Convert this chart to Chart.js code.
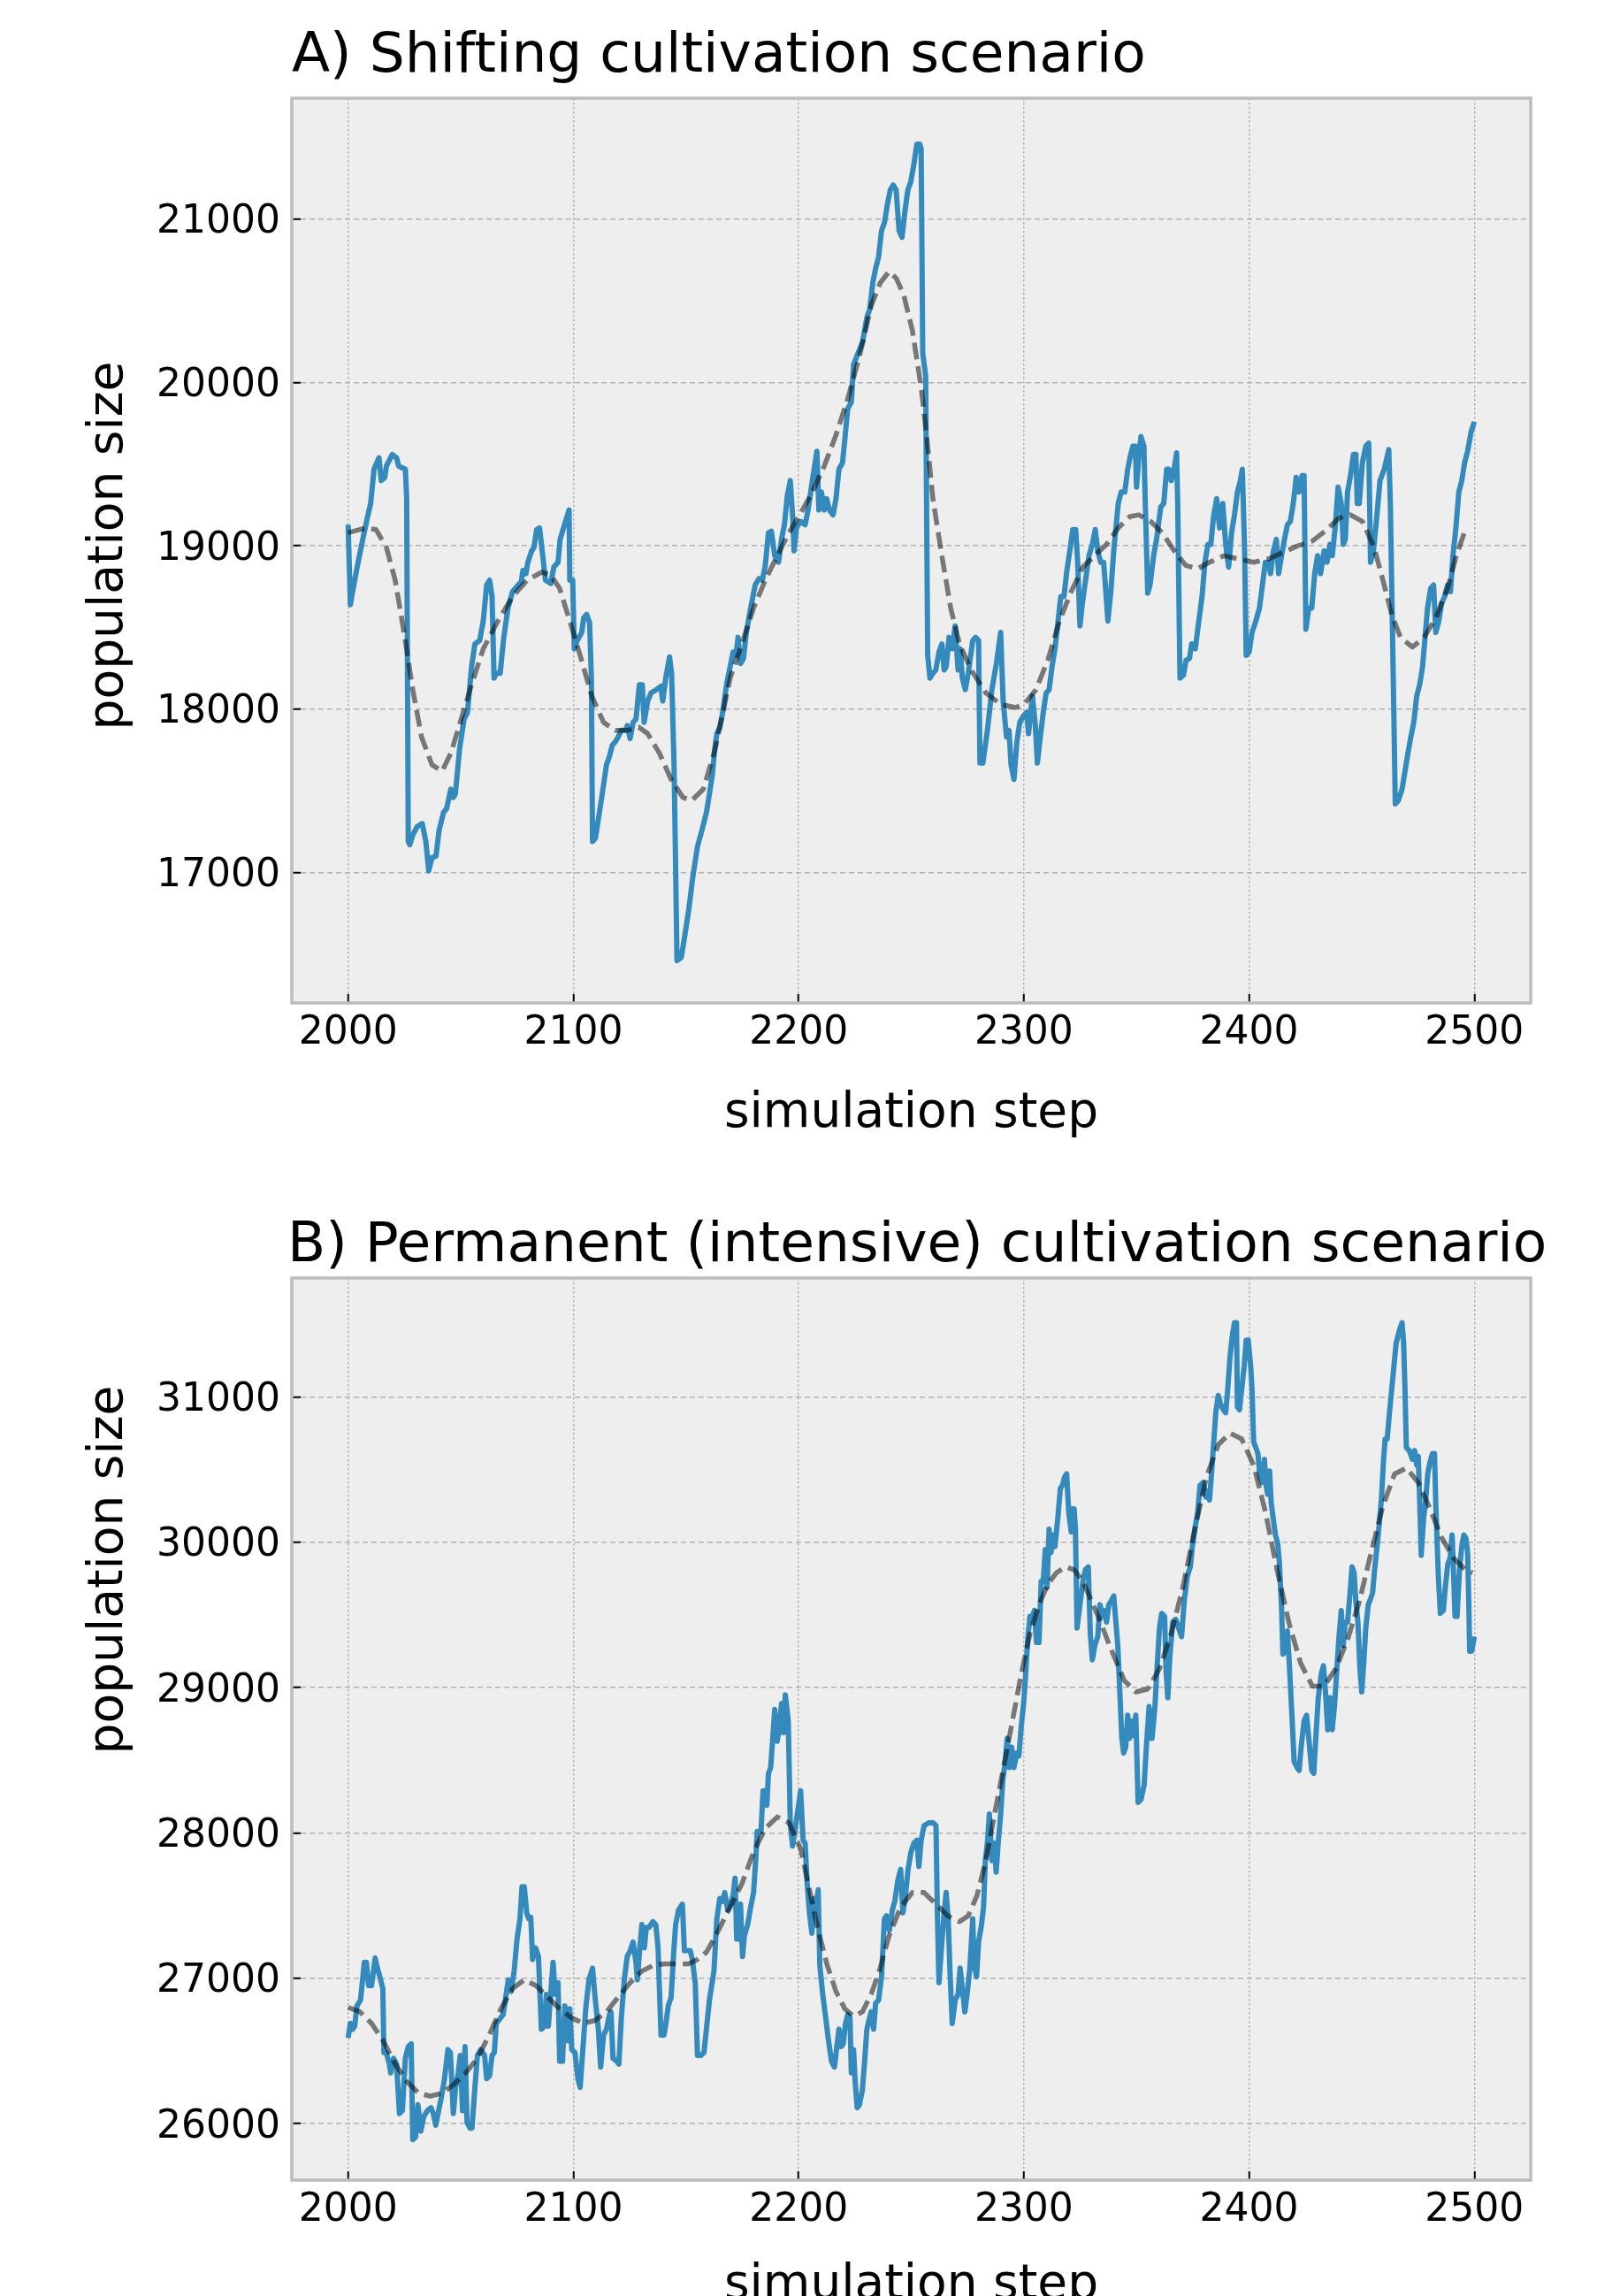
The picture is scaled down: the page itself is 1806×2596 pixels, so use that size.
<!DOCTYPE html>
<html>
<head>
<meta charset="utf-8">
<title>Population size, shifting vs permanent cultivation</title>
<script src="https://cdn.jsdelivr.net/npm/chart.js@4.4.1/dist/chart.umd.min.js"></script>
<style>
  html, body { margin: 0; padding: 0; background: #ffffff; overflow: hidden; }
  canvas { position: absolute; left: 0; }
</style>
</head>
<body>
<canvas id="chartA" width="1806" height="1298" style="top:0px"></canvas>
<canvas id="chartB" width="1806" height="1340" style="top:1298px"></canvas>
<script>
// Values (simulation step, population size)

// A) shifting cultivation - simulated population
const stepsA = [
  2000, 2001, 2002, 2004, 2006.5, 2008.5, 2010, 2011.5, 2013.7, 2014.7,
  2016.3, 2017, 2019.6, 2021.5, 2022.4, 2023.7, 2025.4, 2026, 2026.7, 2027.4,
  2028.7, 2030.6, 2032.9, 2034.5, 2035.8, 2037.2, 2039, 2040.4, 2042.4, 2043.7,
  2045.6, 2046.7, 2047.6, 2049.5, 2051.5, 2053, 2054.8, 2056.3, 2058.4, 2060,
  2061.5, 2062.8, 2063.9, 2064.8, 2065.8, 2067.5, 2069.1, 2071, 2073, 2075.4,
  2076.9, 2077.6, 2078.9, 2079.8, 2081.5, 2082.5, 2083.7, 2085, 2086.4, 2087.6,
  2090, 2091.3, 2093.2, 2094.1, 2096.5, 2098.1, 2098.4, 2099.7, 2100.4, 2101.7,
  2103.7, 2104.6, 2105.9, 2107.2, 2108, 2108.5, 2109.8, 2110.8, 2112.8, 2114.7,
  2116, 2117.3, 2118.6, 2119.9, 2121.2, 2123.2, 2123.9, 2125.2, 2126.5, 2127.8,
  2129.3, 2130.6, 2131.4, 2133, 2134.5, 2136.9, 2138.8, 2139.7, 2141, 2142.7,
  2143.6, 2144.7, 2145.3, 2146, 2147.9, 2149.2, 2151.2, 2153.1, 2155.1, 2157.1,
  2159.1, 2160.4, 2161.7, 2162.8, 2163.7, 2165, 2166.3, 2168, 2169.6, 2170.9,
  2172.2, 2173.1, 2174.2, 2175.5, 2176.8, 2178.7, 2180.7, 2182.4, 2183.9, 2185.2,
  2186.6, 2187.9, 2189.4, 2191.1, 2192.4, 2193.7, 2195, 2196.3, 2197.3, 2198,
  2199, 2200.9, 2202.9, 2204.2, 2206.1, 2208.1, 2209, 2210.1, 2211.4, 2212.4,
  2213.7, 2215.3, 2216.6, 2217.9, 2219.5, 2220.5, 2221.8, 2223.4, 2224.4, 2226.4,
  2228.4, 2230.3, 2231.6, 2232.9, 2234.2, 2235.5, 2236.8, 2238.1, 2239.4, 2240.7,
  2242, 2243.3, 2244.6, 2245.9, 2247.2, 2248.5, 2249.8, 2251.2, 2252.5, 2253.8,
  2254.4, 2255.1, 2256.4, 2257.3, 2258.3, 2259.6, 2260.9, 2262.3, 2263.6, 2264.6,
  2265.5, 2266.8, 2268.2, 2269.5, 2270.8, 2271.7, 2272.7, 2274, 2275.3, 2277.3,
  2278.6, 2279.9, 2280.5, 2281.8, 2283.8, 2285.8, 2287.8, 2289.7, 2290.8, 2292.3,
  2293.4, 2294.3, 2295.6, 2296.9, 2298.2, 2299.9, 2301.2, 2302.1, 2302.7, 2303.8,
  2305.1, 2306, 2307.3, 2308.6, 2309.9, 2311.2, 2312.5, 2313.8, 2315.1, 2316.4,
  2317.8, 2319.1, 2320.4, 2321.7, 2323, 2323.9, 2324.9, 2326, 2327.6, 2328.9,
  2330.4, 2331.7, 2332.8, 2334.1, 2335.4, 2336.4, 2337.3, 2338.6, 2339.9, 2341.9,
  2343.2, 2344.8, 2346.1, 2347.1, 2348.4, 2349.5, 2350, 2351, 2352, 2353.3,
  2353.9, 2355, 2356, 2357.6, 2358.9, 2359.9, 2360.8, 2362.1, 2363.4, 2364.4,
  2365.4, 2366.7, 2367.8, 2368.3, 2369.3, 2370.9, 2372, 2373.5, 2374.5, 2376.1,
  2377.4, 2379.1, 2380.4, 2381.7, 2383, 2384.3, 2385.6, 2386.9, 2388.3, 2389.6,
  2390.9, 2392.2, 2393.5, 2394.8, 2396.1, 2397, 2398, 2398.7, 2400, 2401.3,
  2403, 2404.6, 2405.9, 2407.2, 2408.5, 2409.5, 2410.8, 2412.1, 2413.1, 2414.4,
  2415.7, 2417, 2418.3, 2419.6, 2420.9, 2422.2, 2423.5, 2424.4, 2425.2, 2426.5,
  2427.8, 2429.1, 2430.4, 2431.7, 2433.3, 2434.6, 2435.9, 2436.9, 2438.2, 2439.5,
  2440.9, 2441.8, 2442.7, 2443.7, 2445, 2446.3, 2447.4, 2448, 2448.9, 2450.3,
  2451.8, 2453.1, 2453.9, 2455.2, 2456.5, 2458.1, 2460, 2462, 2462.7, 2464,
  2464.9, 2466.2, 2467.9, 2469.2, 2470.5, 2471.8, 2473.1, 2474.4, 2475.7, 2477,
  2478.1, 2479.2, 2480.6, 2481.9, 2482.9, 2484.2, 2485.5, 2486.8, 2488.1, 2489.4,
  2490.5, 2491.8, 2493.1, 2494.4, 2495.7, 2497, 2498.6, 2500
];
const popA = [
  19130, 18640, 18720, 18870, 19040, 19170, 19260, 19470, 19540, 19400,
  19420, 19490, 19560, 19540, 19490, 19480, 19470, 19290, 17190, 17170,
  17230, 17280, 17300, 17190, 17010, 17090, 17100, 17260, 17370, 17390,
  17510, 17460, 17480, 17760, 17940, 17980, 18260, 18400, 18420, 18540,
  18760, 18790, 18690, 18190, 18220, 18220, 18440, 18620, 18720, 18760,
  18780, 18850, 18830, 18900, 18970, 18990, 19100, 19110, 18940, 18790,
  18770, 18870, 18900, 19040, 19150, 19220, 18790, 18790, 18370, 18420,
  18470, 18560, 18580, 18530, 18190, 17190, 17210, 17300, 17480, 17660,
  17710, 17780, 17800, 17830, 17870, 17870, 17900, 17820, 17920, 17940,
  18150, 18150, 17920, 18050, 18100, 18120, 18140, 18050, 18190, 18320,
  18220, 17660, 17120, 16460, 16480, 16590, 16770, 16980, 17160, 17260,
  17370, 17480, 17600, 17760, 17850, 17890, 17980, 18150, 18260, 18350,
  18330, 18440, 18280, 18310, 18470, 18620, 18760, 18800, 18790, 18880,
  19080, 19090, 18940, 18900, 19040, 19130, 19310, 19400, 19190, 18970,
  19110, 19150, 19130, 19220, 19400, 19580, 19220, 19330, 19220, 19290,
  19220, 19190, 19290, 19470, 19510, 19650, 19840, 19880, 20110, 20180,
  20250, 20400, 20450, 20610, 20700, 20770, 20930, 20980, 21090, 21180,
  21210, 21180, 20930, 20890, 21050, 21180, 21230, 21340, 21460, 21460,
  21430, 20180, 20040, 18330, 18190, 18220, 18240, 18350, 18400, 18240,
  18260, 18440, 18370, 18510, 18240, 18370, 18190, 18120, 18220, 18420,
  18440, 18420, 17670, 17670, 17870, 18120, 18280, 18470, 18050, 17830,
  17870, 17660, 17570, 17800, 17920, 17960, 17980, 17850, 17940, 18080,
  17900, 17670, 17830, 17980, 18100, 18120, 18260, 18370, 18530, 18690,
  18690, 18850, 18970, 19100, 19100, 18900, 18510, 18650, 18810, 18940,
  19010, 19100, 18970, 18900, 18900, 18720, 18540, 18720, 18970, 19260,
  19330, 19330, 19470, 19540, 19610, 19610, 19360, 19540, 19670, 19610,
  19260, 18710, 18760, 18940, 19040, 19150, 19240, 19260, 19470, 19470,
  19400, 19470, 19570, 19260, 18190, 18210, 18300, 18310, 18400, 18370,
  18510, 18690, 18900, 19010, 19010, 19190, 19290, 19110, 19260, 19010,
  18870, 19080, 19190, 19330, 19400, 19470, 18970, 18330, 18350, 18470,
  18540, 18620, 18760, 18900, 18900, 18830, 18970, 19040, 18830, 18940,
  19040, 19130, 19150, 19260, 19420, 19330, 19430, 19430, 18490, 18620,
  18620, 18830, 18940, 18830, 18970, 18900, 19010, 18940, 19110, 19360,
  19260, 19010, 19040, 19330, 19430, 19560, 19560, 19260, 19260, 19510,
  19610, 19630, 18900, 18970, 19150, 19400, 19470, 19590, 19260, 18190,
  17420, 17440, 17510, 17620, 17730, 17830, 17920, 18080, 18150, 18260,
  18440, 18620, 18740, 18760, 18470, 18540, 18650, 18690, 18760, 18720,
  18940, 19110, 19330, 19400, 19510, 19580, 19700, 19760
];
// A) smoothed trend (dashed)
const trendStepsA = [
  2000, 2007.8, 2012.4, 2017, 2020.9, 2024.8, 2028.7, 2032.6, 2037.2, 2041.7,
  2045.6, 2050.2, 2054.8, 2060, 2066.5, 2073, 2079.5, 2086, 2090, 2093.9,
  2098.4, 2103, 2108.2, 2113.4, 2118.6, 2123.9, 2129.1, 2133, 2138.2, 2143.4,
  2148.6, 2152.5, 2157.7, 2163, 2169.6, 2174.8, 2180, 2185.2, 2190.5, 2195.7,
  2200.9, 2206.1, 2211.4, 2216.6, 2221.8, 2227, 2232.2, 2236.2, 2240.1, 2243.3,
  2246.6, 2250.5, 2254.4, 2257, 2259.6, 2263.6, 2267.5, 2271.4, 2276.6, 2283.1,
  2289.7, 2296.2, 2300.1, 2305.4, 2310.6, 2315.8, 2321, 2326.2, 2331.4, 2336.7,
  2341.9, 2347.1, 2351, 2356.3, 2361.5, 2366.7, 2371.9, 2377.2, 2382.4, 2388.9,
  2395.4, 2402, 2408.5, 2415, 2421.5, 2428.1, 2434.6, 2439.8, 2445, 2450.3,
  2455.5, 2459.4, 2463.3, 2467.2, 2472.5, 2477.7, 2482.9, 2488.1, 2492, 2496
];
const trendA = [
  19080, 19110, 19100, 18990, 18790, 18470, 18120, 17830, 17660, 17620,
  17730, 17940, 18150, 18370, 18540, 18690, 18790, 18840, 18820, 18740,
  18540, 18330, 18080, 17920, 17870, 17870, 17890, 17850, 17730, 17570,
  17460, 17440, 17510, 17760, 18190, 18400, 18620, 18790, 18940, 19080,
  19200, 19330, 19490, 19680, 19900, 20160, 20470, 20610, 20680, 20640,
  20540, 20320, 19970, 19650, 19290, 18940, 18620, 18400, 18240, 18100,
  18030, 18010, 18030, 18120, 18300, 18540, 18720, 18870, 18940, 19010,
  19110, 19180, 19190, 19150, 19080, 18970, 18880, 18860, 18900, 18940,
  18920, 18900, 18920, 18960, 19000, 19030, 19100, 19170, 19190, 19150,
  18990, 18790, 18580, 18440, 18380, 18440, 18560, 18740, 18940, 19100
];

// B) permanent (intensive) cultivation - simulated population
const stepsB = [
  2000, 2001, 2002, 2002.9, 2003.9, 2005.5, 2007.2, 2008.1, 2009.1, 2010.4,
  2012, 2013, 2014.1, 2015.4, 2015.9, 2016.9, 2018.3, 2018.9, 2020.2, 2021.5,
  2022.8, 2024.1, 2025.4, 2026.7, 2028, 2028.7, 2030, 2031, 2032.3, 2033.6,
  2035.2, 2036.8, 2037.8, 2038.9, 2040.2, 2041.5, 2042.8, 2044.3, 2045.4, 2046.7,
  2047.7, 2048.9, 2049.8, 2050.8, 2051.9, 2052.8, 2054.1, 2055, 2056.1, 2057.4,
  2058.9, 2060.6, 2061.5, 2062.8, 2063.9, 2064.9, 2065.8, 2067.8, 2068.8, 2069.8,
  2071.1, 2072.4, 2073.7, 2075, 2076.3, 2077.2, 2078.2, 2079.3, 2080.2, 2081.1,
  2081.9, 2083.2, 2084.5, 2085.8, 2087.1, 2088, 2088.9, 2089.9, 2091, 2091.9,
  2093.2, 2093.9, 2095.2, 2096.2, 2097.5, 2098.4, 2099.3, 2100.7, 2102, 2103,
  2104.3, 2105.6, 2106.9, 2108.5, 2109.5, 2111.1, 2112.1, 2113.4, 2114.7, 2116,
  2116.7, 2117.6, 2119.3, 2120.2, 2121.3, 2122.6, 2123.9, 2125.2, 2126.5, 2127.8,
  2128.4, 2129.4, 2130.4, 2131.5, 2132.4, 2133.6, 2135.3, 2136.6, 2137.6, 2138.2,
  2138.9, 2140.2, 2141.1, 2142.1, 2143.4, 2144.5, 2145.4, 2146.7, 2148.4, 2149.3,
  2150.6, 2151.9, 2152.8, 2154.1, 2155.1, 2156.7, 2158, 2160.4, 2162.4, 2163.7,
  2165, 2166.3, 2167.2, 2168.5, 2169.8, 2170.9, 2171.8, 2172.5, 2173.5, 2174.2,
  2175.1, 2175.9, 2177.4, 2178.7, 2180, 2181.1, 2181.6, 2183.3, 2184.2, 2185.2,
  2185.9, 2186.6, 2187.6, 2188.5, 2189.4, 2190.5, 2191.5, 2192.4, 2193.3, 2194.1,
  2195.4, 2196.3, 2197.3, 2198.3, 2199.6, 2200.9, 2202, 2202.9, 2203.8, 2204.8,
  2205.9, 2206.8, 2208.1, 2208.7, 2209.4, 2210.7, 2212, 2213.3, 2214.6, 2215.9,
  2216.8, 2217.9, 2218.9, 2219.8, 2220.8, 2221.8, 2222.8, 2223.4, 2224.4, 2225.1,
  2226, 2227, 2228.3, 2229.4, 2230.3, 2231.2, 2232.2, 2233.3, 2234.2, 2235.5,
  2236.8, 2238.1, 2239, 2240.3, 2241.6, 2242.7, 2244, 2245.3, 2246.3, 2247.3,
  2248.6, 2249.9, 2251.2, 2252.5, 2253.4, 2254.4, 2255.7, 2257.7, 2259.7, 2261,
  2261.6, 2262.3, 2263.6, 2264.6, 2265.5, 2266.4, 2267.2, 2268.2, 2269.5, 2270.8,
  2271.7, 2272.7, 2273.8, 2275.1, 2276, 2277.3, 2277.9, 2279, 2279.9, 2281.2,
  2282.1, 2282.9, 2283.8, 2284.7, 2285.8, 2286.8, 2287.7, 2288.6, 2289.7, 2290.7,
  2291.6, 2292.6, 2293.6, 2294.6, 2295.6, 2296.9, 2297.8, 2298.8, 2299.9, 2300.8,
  2301.7, 2302.7, 2303.8, 2304.7, 2305.6, 2306.7, 2307.7, 2308.6, 2309.5, 2310.3,
  2311.2, 2312.1, 2312.9, 2313.8, 2315.1, 2316.2, 2317.1, 2318.1, 2319, 2319.9,
  2321, 2321.6, 2322.3, 2322.9, 2323.6, 2324.9, 2326.2, 2327.3, 2328.6, 2329.5,
  2330.4, 2331.5, 2332.8, 2333.8, 2334.7, 2335.6, 2336.7, 2337.7, 2338.6, 2339.9,
  2341.7, 2342.6, 2343.5, 2344.3, 2345.2, 2346.1, 2346.9, 2347.8, 2348.7, 2349.7,
  2350.7, 2352, 2353.4, 2354.3, 2355.6, 2356.9, 2358.2, 2359.1, 2360.2, 2361.2,
  2362.5, 2363.1, 2363.9, 2364.8, 2366.1, 2367.4, 2368.7, 2370, 2371.3, 2372.6,
  2373.9, 2374.8, 2375.9, 2377.2, 2378.2, 2379.5, 2380.8, 2381.7, 2382.4, 2383.4,
  2384.3, 2385.2, 2386.3, 2387.3, 2388.6, 2389.6, 2390.5, 2391.5, 2392.6, 2393.5,
  2394.4, 2394.8, 2395.7, 2396.7, 2397.8, 2398.7, 2399.6, 2400.7, 2401.3, 2402,
  2403, 2403.9, 2404.8, 2405.9, 2406.8, 2407.4, 2408.2, 2409.1, 2409.8, 2410.8,
  2411.7, 2412.7, 2413.4, 2414.4, 2415, 2416.1, 2417, 2417.9, 2419, 2420,
  2421.3, 2422.2, 2423.1, 2424.4, 2425.5, 2426.5, 2427.8, 2428.7, 2429.6, 2430.7,
  2432, 2433, 2433.9, 2434.9, 2435.9, 2436.9, 2437.9, 2438.8, 2439.8, 2440.9,
  2441.8, 2442.7, 2443.7, 2444.8, 2445.7, 2446.6, 2447.4, 2448.3, 2449.2, 2450,
  2450.9, 2451.8, 2452.9, 2453.9, 2454.8, 2455.7, 2456.8, 2457.8, 2458.7, 2459.7,
  2460.4, 2461.3, 2462.3, 2463.3, 2464.4, 2465.3, 2466.6, 2467.9, 2468.6, 2469.2,
  2469.8, 2471.1, 2472.5, 2473.5, 2474.4, 2475.1, 2475.8, 2476.4, 2477.5, 2478.4,
  2479.3, 2480.3, 2481.4, 2482.3, 2482.9, 2484, 2484.9, 2486.2, 2487.1, 2488.2,
  2489.2, 2490.1, 2490.8, 2491.4, 2492.3, 2493.4, 2494.4, 2495.3, 2496.2, 2497,
  2497.5, 2497.9, 2498.8, 2500
];
const popB = [
  26590, 26690, 26650, 26670, 26810, 26850, 27110, 27110, 26950, 26950,
  27140, 27070, 27010, 26930, 26490, 26490, 26410, 26350, 26450, 26410,
  26070, 26090, 26450, 26530, 26550, 25890, 25910, 26130, 25950, 26050,
  26090, 26110, 26070, 25990, 26090, 26190, 26310, 26510, 26490, 26070,
  26250, 26350, 26470, 26090, 26530, 26010, 25970, 25970, 26210, 26470,
  26510, 26470, 26310, 26330, 26470, 26490, 26690, 26730, 26750, 26850,
  26990, 26910, 27050, 27270, 27410, 27630, 27630, 27450, 27410, 27420,
  27130, 27210, 27150, 26650, 26670, 26890, 26670, 26890, 27110, 26890,
  26970, 26430, 26430, 26810, 26570, 26790, 26510, 26490, 26310, 26250,
  26530, 26810, 26990, 27070, 26890, 26650, 26390, 26610, 26650, 26750,
  26770, 26450, 26430, 26410, 26730, 26990, 27150, 27190, 27250, 27110,
  26990, 27190, 27370, 27210, 27350, 27350, 27390, 27370, 27210, 26930,
  26610, 26610, 26690, 26810, 26870, 27170, 27370, 27470, 27510, 27190,
  27190, 27190, 27130, 26970, 26470, 26470, 26490, 26850, 27050, 27410,
  27550, 27530, 27590, 27470, 27510, 27570, 27690, 27270, 27270, 27510,
  27150, 27290, 27370, 27490, 27590, 27850, 28010, 28010, 28290, 28290,
  28190, 28410, 28450, 28650, 28850, 28630, 28730, 28890, 28690, 28950,
  28770, 28070, 27910, 28010, 28150, 28290, 27950, 27930, 27650, 27450,
  27310, 27550, 27530, 27610, 27090, 26890, 26730, 26570, 26430, 26390,
  26510, 26650, 26530, 26550, 26690, 26750, 26730, 26350, 26510, 26290,
  26110, 26130, 26230, 26450, 26650, 26710, 26770, 26650, 26830, 26850,
  27010, 27410, 27430, 27330, 27470, 27530, 27670, 27750, 27450, 27550,
  27750, 27870, 27930, 27950, 27770, 27950, 28050, 28070, 28070, 28050,
  27450, 26970, 27250, 27450, 27590, 27410, 27050, 26690, 26850, 26890,
  27070, 26930, 26770, 26930, 27070, 27410, 27090, 27010, 27250, 27370,
  27490, 27810, 27930, 28130, 27810, 27930, 27730, 27930, 28130, 28370,
  28470, 28650, 28450, 28590, 28450, 28550, 28530, 28730, 28890, 29090,
  29330, 29490, 29490, 29530, 29310, 29310, 29730, 29730, 29950, 29690,
  30090, 29930, 30050, 29970, 30170, 30370, 30390, 30450, 30470, 30210,
  30070, 30230, 30230, 30090, 29410, 29570, 29730, 29810, 29830, 29370,
  29190, 29290, 29350, 29570, 29490, 29530, 29450, 29570, 29590, 29630,
  29290, 28970, 28650, 28550, 28590, 28810, 28650, 28770, 28670, 28810,
  28210, 28230, 28330, 28570, 28870, 28650, 28870, 29130, 29410, 29510,
  29490, 29130, 28930, 29210, 29450, 29470, 29410, 29350, 29610, 29770,
  29830, 29970, 30090, 30210, 30390, 30410, 30310, 30350, 30290, 30490,
  30690, 30890, 31010, 30950, 30910, 30890, 31050, 31270, 31430, 31510,
  31510, 30930, 30910, 31050, 31210, 31390, 31390, 31210, 31050, 30690,
  30650, 30610, 30450, 30410, 30570, 30410, 30330, 30490, 30270, 30150,
  30050, 29990, 29870, 29550, 29230, 29250, 29390, 29150, 28810, 28490,
  28450, 28430, 28590, 28770, 28810, 28650, 28430, 28410, 28650, 28930,
  29090, 29150, 28970, 28710, 28930, 28710, 28870, 29090, 29330, 29530,
  29290, 29450, 29450, 29650, 29830, 29790, 29590, 29450, 29130, 28970,
  29170, 29410, 29570, 29610, 29650, 29810, 29970, 30130, 30290, 30570,
  30710, 30710, 30890, 31050, 31230, 31370, 31450, 31510, 31370, 31050,
  30650, 30630, 30570, 30630, 30530, 30590, 30250, 29910, 30170, 30290,
  30470, 30550, 30610, 30610, 30250, 29770, 29510, 29530, 29690, 29850,
  29890, 30050, 29770, 29490, 29490, 29810, 29970, 30050, 30030, 29930,
  29610, 29250, 29250, 29350
];
// B) smoothed trend (dashed)
const trendStepsB = [
  2000, 2005.2, 2010.4, 2015.6, 2020.9, 2026.1, 2031.3, 2036.5, 2041.7, 2046.9,
  2052.2, 2057.4, 2062.6, 2067.8, 2073, 2078.2, 2083.4, 2088.7, 2093.9, 2099.1,
  2104.3, 2109.5, 2114.7, 2119.9, 2125.2, 2130.4, 2135.6, 2140.8, 2146, 2151.2,
  2155.1, 2159.1, 2164.4, 2169.6, 2174.8, 2180, 2185.2, 2190.5, 2195.7, 2200.9,
  2204.8, 2208.7, 2212.7, 2216.6, 2220.5, 2224.4, 2228.3, 2232.2, 2236.2, 2240.1,
  2245.3, 2250.5, 2255.7, 2261, 2266.2, 2271.4, 2275.3, 2279.2, 2283.1, 2287,
  2291, 2294.9, 2298.8, 2302.7, 2306.7, 2310.6, 2314.5, 2318.5, 2322.3, 2326.2,
  2330.2, 2334.1, 2338, 2344.5, 2349.7, 2355, 2360.2, 2365.4, 2370.6, 2375.9,
  2381.1, 2386.3, 2391.5, 2396.7, 2402, 2407.2, 2412.4, 2417.6, 2422.8, 2428.1,
  2433.3, 2438.5, 2443.7, 2448.9, 2454.2, 2459.4, 2464.6, 2469.8, 2475.1, 2480.3,
  2485.5, 2490.8, 2496, 2499.2
];
const trendB = [
  26800, 26770, 26690, 26570, 26410, 26290, 26210, 26190, 26210, 26270,
  26350, 26450, 26610, 26790, 26930, 26990, 26950, 26870, 26790, 26730,
  26690, 26710, 26770, 26870, 26970, 27050, 27090, 27100, 27100, 27100,
  27130, 27180, 27330, 27490, 27650, 27870, 28030, 28110, 28070, 27890,
  27610, 27330, 27090, 26910, 26790, 26740, 26770, 26890, 27070, 27290,
  27490, 27590, 27590, 27510, 27430, 27390, 27430, 27570, 27810, 28130,
  28450, 28770, 29090, 29370, 29570, 29710, 29790, 29830, 29810, 29730,
  29590, 29450, 29290, 29050, 28970, 28990, 29130, 29370, 29690, 30090,
  30450, 30670, 30750, 30710, 30530, 30210, 29810, 29450, 29170, 29010,
  29010, 29130, 29330, 29590, 29930, 30250, 30470, 30510, 30410, 30230,
  30030, 29890, 29810, 29790
];

// tick labels
const xTicks = [2000, 2100, 2200, 2300, 2400, 2500];
const yTicksA = [17000, 18000, 19000, 20000, 21000];
const yTicksB = [26000, 27000, 28000, 29000, 30000, 31000];

const FONT = "'DejaVu Sans', 'Liberation Sans', sans-serif";

// grey plot background, light frame, left-aligned panel title and y label
const framePlugin = {
  id: 'frame',
  beforeDraw(chart) {
    const ctx = chart.ctx;
    const a = chart.chartArea;
    ctx.save();
    ctx.fillStyle = '#eeeeee';
    ctx.fillRect(a.left, a.top, a.right - a.left, a.bottom - a.top);
    ctx.restore();
  },
  afterDraw(chart, args, opts) {
    const ctx = chart.ctx;
    const a = chart.chartArea;
    ctx.save();
    ctx.strokeStyle = '#bcbcbc';
    ctx.lineWidth = 3.5;
    ctx.strokeRect(a.left, a.top, a.right - a.left, a.bottom - a.top);

    ctx.fillStyle = '#000000';
    ctx.font = '63px ' + FONT;
    ctx.textAlign = 'left';
    ctx.textBaseline = 'alphabetic';
    ctx.fillText(opts.title, a.left + opts.titleShift, opts.titleBaseline);

    ctx.font = '55px ' + FONT;
    ctx.translate(124, opts.yLabelCenter);
    ctx.rotate(-Math.PI / 2);
    ctx.textAlign = 'center';
    ctx.textBaseline = 'middle';
    ctx.fillText('population size', 0, 0);
    ctx.restore();
  }
};

function drawPanel(canvasId, p) {
  const raw = p.steps.map((s, i) => ({ x: s, y: p.pop[i] }));
  const smooth = p.trendSteps.map((s, i) => ({ x: s, y: p.trend[i] }));

  return new Chart(document.getElementById(canvasId), {
    type: 'line',
    data: {
      datasets: [
        {
          data: smooth,
          borderColor: 'rgba(0, 0, 0, 0.5)',
          borderWidth: 5.5,
          borderDash: [19, 8],
          borderJoinStyle: 'round',
          pointRadius: 0,
          tension: 0,
          fill: false,
          order: 0
        },
        {
          data: raw,
          borderColor: '#348ABD',
          borderWidth: 6,
          borderJoinStyle: 'round',
          pointRadius: 0,
          tension: 0,
          fill: false,
          order: 1
        }
      ]
    },
    options: {
      responsive: false,
      animation: false,
      devicePixelRatio: 1,
      layout: { padding: { left: 0, right: 75, top: p.padTop, bottom: p.padBottom } },
      plugins: {
        legend: { display: false },
        tooltip: { enabled: false },
        frame: {
          title: p.title,
          titleShift: p.titleShift,
          titleBaseline: p.titleBaseline,
          yLabelCenter: p.yLabelCenter
        }
      },
      scales: {
        x: {
          type: 'linear',
          min: 1975,
          max: 2525,
          afterBuildTicks: s => { s.ticks = xTicks.map(v => ({ value: v })); },
          afterFit: s => { s.height = p.xAxisHeight; },
          grid: { color: '#b2b2b2', lineWidth: 1.5, tickLength: -10, tickColor: '#000000', tickWidth: 2 },
          border: { display: false, dash: [2.5, 2.5] },
          ticks: {
            color: '#000000',
            font: { family: FONT, size: 44 },
            padding: 18,
            maxRotation: 0,
            autoSkip: false,
            callback: v => String(v)
          },
          title: {
            display: true,
            text: 'simulation step',
            color: '#000000',
            font: { family: FONT, size: 55 },
            padding: 0
          }
        },
        y: {
          type: 'linear',
          min: p.yMin,
          max: p.yMax,
          afterBuildTicks: s => { s.ticks = p.yTicks.map(v => ({ value: v })); },
          afterFit: s => { s.width = 330; },
          grid: { color: '#b2b2b2', lineWidth: 1.5, tickLength: -10, tickColor: '#000000', tickWidth: 2 },
          border: { display: false, dash: [6, 4] },
          ticks: {
            color: '#000000',
            font: { family: FONT, size: 44 },
            padding: 23,
            labelOffset: 4,
            autoSkip: false,
            callback: v => String(v)
          }
        }
      }
    },
    plugins: [framePlugin]
  });
}

drawPanel('chartA', {
  steps: stepsA, pop: popA, trendSteps: trendStepsA, trend: trendA,
  yTicks: yTicksA, yMin: 16201, yMax: 21742,
  title: 'A) Shifting cultivation scenario', titleShift: 0,
  titleBaseline: 81, yLabelCenter: 617,
  padTop: 111, padBottom: 5, xAxisHeight: 159
});

drawPanel('chartB', {
  steps: stepsB, pop: popB, trendSteps: trendStepsB, trend: trendB,
  yTicks: yTicksB, yMin: 25612, yMax: 31817,
  title: 'B) Permanent (intensive) cultivation scenario', titleShift: -5,
  titleBaseline: 128, yLabelCenter: 477,
  padTop: 147, padBottom: 20, xAxisHeight: 153
});
</script>
</body>
</html>
